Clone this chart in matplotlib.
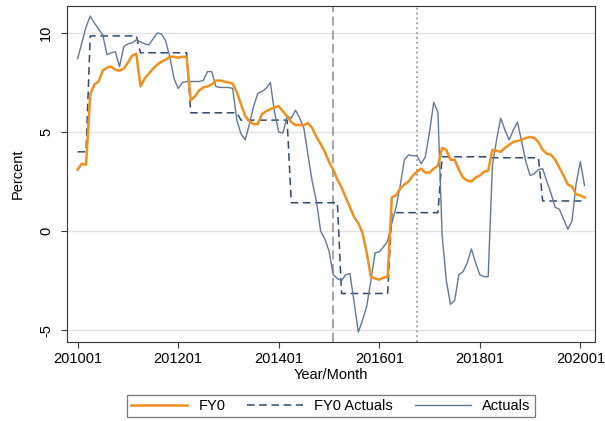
import pandas as pd
import matplotlib.pyplot as plt
import numpy as np

plt.rcParams['font.family'] = ['Liberation Sans', 'DejaVu Sans']

# monthly data starting 2010-01
start = '2010-01'

fy0 = [3.1, 3.4, 3.35, 6.9, 7.4, 7.55, 8.1, 8.25, 8.3, 8.15,
       8.1, 8.2, 8.5, 8.85, 8.95, 7.3, 7.7, 7.95, 8.2, 8.4,
       8.55, 8.65, 8.8, 8.8, 8.75, 8.8, 8.8, 6.6, 6.8, 7.1,
       7.25, 7.3, 7.4, 7.6, 7.6, 7.55, 7.5, 7.45, 7.0, 6.4,
       5.8, 5.55, 5.4, 5.4, 5.9, 6.05, 6.15, 6.25, 6.3, 6.05,
       5.8, 5.5, 5.35, 5.35, 5.35, 5.45, 5.2, 4.75, 4.4, 4.0,
       3.5, 3.1, 2.6, 2.2, 1.7, 1.2, 0.7, 0.4, -0.1, -1.1,
       -2.3, -2.4, -2.45, -2.35, -2.3, 1.7, 1.8, 2.15, 2.35, 2.5,
       2.8, 3.0, 3.15, 2.95, 2.95, 3.15, 3.3, 4.2, 4.1, 3.6,
       3.6, 3.1, 2.7, 2.55, 2.5, 2.7, 2.8, 3.0, 3.05, 4.1,
       4.05, 4.0, 4.2, 4.35, 4.5, 4.55, 4.6, 4.7, 4.75, 4.7,
       4.5, 4.1, 3.9, 3.85, 3.6, 3.2, 2.8, 2.35, 2.25, 1.85,
       1.8, 1.7]

fy0_actuals = ([4.0] * 3 + [9.85] * 12 + [9.0] * 12 + [5.97] * 12 + [5.6] * 12
               + [1.43] * 12 + [-3.15] * 12 + [0.93] * 12 + [3.75] * 12
               + [3.7] * 12 + [1.52] * 11)

actuals = [8.7, 9.5, 10.3, 10.85, 10.5, 10.2, 9.9, 8.9, 9.0, 9.05,
           8.3, 9.3, 9.45, 9.5, 9.65, 9.55, 9.45, 9.4, 9.7, 10.0,
           9.95, 9.6, 8.8, 7.7, 7.2, 7.5, 7.55, 7.55, 7.55, 7.55,
           7.6, 8.05, 8.05, 7.3, 7.25, 7.25, 7.25, 7.2, 5.6, 4.9,
           4.6, 5.4, 6.3, 6.95, 7.05, 7.2, 7.5, 6.0, 5.0, 4.95,
           5.8, 5.7, 6.1, 5.7, 5.2, 3.8, 2.5, 1.5, 0.0, -0.4,
           -1.0, -2.2, -2.4, -2.5, -2.2, -2.15, -3.6, -5.1, -4.5, -3.8,
           -2.5, -1.1, -1.05, -0.8, -0.5, 0.4, 1.2, 2.3, 3.6, 3.85,
           3.8, 3.8, 3.4, 3.75, 5.0, 6.5, 6.0, -0.2, -2.5, -3.7,
           -3.5, -2.2, -2.05, -1.6, -0.9, -1.6, -2.2, -2.3, -2.3, 3.3,
           4.6, 5.7, 5.1, 4.6, 5.1, 5.5, 4.5, 3.5, 2.8, 2.9,
           3.1, 3.15, 2.5, 1.9, 1.2, 1.1, 0.6, 0.1, 0.5, 2.4,
           3.5, 2.3]

event_dashed = '2015-02'
event_dotted = '2016-10'

months = pd.period_range(start, periods=len(fy0), freq='M')
x = np.arange(len(months))

fig = plt.figure(figsize=(6.05, 4.21), dpi=100)
ax = fig.add_axes([0.1107, 0.1876, 0.8728, 0.7981])

ax.plot(x, fy0, color='#F0901E', lw=1.8, label='FY0', zorder=3)
ax.plot(x, fy0_actuals, color='#2E4A6E', lw=1.1, ls=(0, (5, 3)), label='FY0 Actuals', zorder=2)
ax.plot(x, actuals, color='#5F7896', lw=1.0, label='Actuals', zorder=2)

ax.axvline(list(months).index(pd.Period(event_dashed, 'M')), color='#8C8C8C', lw=1.1, ls=(0, (6, 3)), zorder=1)
ax.axvline(list(months).index(pd.Period(event_dotted, 'M')), color='#8C8C8C', lw=1.1, ls=(0, (1.2, 2)), zorder=1)

ax.set_xlim(-2.55, 123.5)
ax.set_ylim(-5.6, 11.36)

ticks = np.arange(0, 121, 24)
ax.set_xticks(ticks)
ax.set_xticklabels([months[t].strftime('%Y%m') if t < len(months) else '' for t in ticks], fontsize=10.5)
ax.set_yticks([-5, 0, 5, 10])
ax.set_yticklabels(['-5', '0', '5', '10'], rotation=90, va='center', fontsize=10.5)
ax.grid(axis='y', color='#E3E3E3', lw=1)
ax.set_axisbelow(True)
ax.tick_params(direction='out', length=4, color='#333333')
ax.tick_params(axis='y', pad=6)
for s in ax.spines.values():
	s.set_color('#333333')

ax.set_xlabel('Year/Month', fontsize=10.5, labelpad=1)
ax.set_ylabel('Percent', fontsize=10.5, labelpad=10)

leg = ax.legend(loc='upper center', bbox_to_anchor=(0.5, -0.135), ncol=3, frameon=True,
                fancybox=False, edgecolor='#555555', fontsize=10.5, handlelength=3.8,
                columnspacing=1.5, borderpad=0.3)
leg.get_frame().set_linewidth(0.9)

fig.savefig('out.png', dpi=100)
